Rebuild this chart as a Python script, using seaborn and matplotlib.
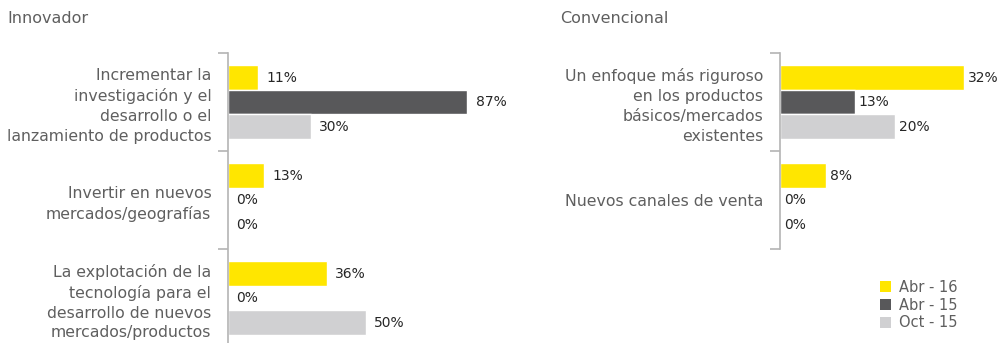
import matplotlib
matplotlib.use("Agg")
import matplotlib.pyplot as plt
import pandas as pd
import seaborn as sns
from matplotlib.patches import Patch

# data
periods = ["Abr - 16", "Abr - 15", "Oct - 15"]
colors = ["#FFE600", "#58585A", "#D0D0D2"]

innov_cats = ["Incrementar la\ninvestigación y el\ndesarrollo o el\nlanzamiento de productos",
              "Invertir en nuevos\nmercados/geografías",
              "La explotación de la\ntecnología para el\ndesarrollo de nuevos\nmercados/productos"]
innov_abr16 = [11, 13, 36]
innov_abr15 = [87, 0, 0]
innov_oct15 = [30, 0, 50]

conv_cats = ["Un enfoque más riguroso\nen los productos\nbásicos/mercados\nexistentes",
             "Nuevos canales de venta"]
conv_abr16 = [32, 8]
conv_abr15 = [13, 0]
conv_oct15 = [20, 0]


def to_long(cats, a16, a15, o15):
    rows = []
    for vals, p in zip([a16, a15, o15], periods):
        for c, v in zip(cats, vals):
            rows.append({"cat": c, "period": p, "value": v})
    return pd.DataFrame(rows)


sns.set_style("white")
plt.rcParams['font.family'] = ['DejaVu Sans']

txt_grey = "#5F5F5F"
spine_grey = "#B4B4B4"

fig = plt.figure(figsize=(10, 3.43), dpi=100)
ax1 = fig.add_axes([0.228, -0.0117, 0.272, 0.857])
ax2 = fig.add_axes([0.780, 0.274, 0.22, 0.5714])


def draw(ax, cats, a16, a15, o15, xmax, pad):
    df = to_long(cats, a16, a15, o15)
    sns.barplot(data=df, y="cat", x="value", hue="period", orient="h",
                hue_order=periods, palette=colors, width=0.75,
                saturation=1, ax=ax, legend=False, errorbar=None)
    for cont in ax.containers:
        ax.bar_label(cont, labels=[f"{int(b.get_width())}%" for b in cont],
                     padding=pad, fontsize=10, color="#262626")
    ax.set_xlim(0, xmax)
    ax.set_ylim(len(cats) - 0.5, -0.5)
    ax.set_xlabel("")
    ax.set_ylabel("")
    ax.set_xticks([])
    for s in ["top", "right", "bottom"]:
        ax.spines[s].set_visible(False)
    ax.spines["left"].set_color(spine_grey)
    ax.spines["left"].set_linewidth(1.2)
    # boundary ticks between categories
    ax.set_yticks([i - 0.5 for i in range(len(cats) + 1)], minor=True)
    ax.tick_params(axis="y", which="minor", length=7, color=spine_grey,
                   width=1.2, left=True)
    ax.tick_params(axis="y", which="major", length=0, pad=12,
                   labelsize=11.3, labelcolor=txt_grey)
    ax.set_yticks(range(len(cats)), labels=cats, linespacing=1.4,
                  ha="right", multialignment="right")


draw(ax1, innov_cats, innov_abr16, innov_abr15, innov_oct15, 272 / 2.75, 6)
draw(ax2, conv_cats, conv_abr16, conv_abr15, conv_oct15, 220 / 5.75, 3)

fig.text(0.007, 0.945, "Innovador", fontsize=11.5, color=txt_grey, va="center")
fig.text(0.560, 0.945, "Convencional", fontsize=11.5, color=txt_grey, va="center")

handles = [Patch(facecolor=c, edgecolor="none") for c in colors]
fig.legend(handles, periods, loc="upper left", bbox_to_anchor=(0.873, 0.206),
           frameon=False, fontsize=10.5, labelcolor=txt_grey,
           handlelength=0.75, handleheight=0.75, handletextpad=0.5,
           labelspacing=0.2, borderpad=0)

fig.savefig("out.png", dpi=100)
